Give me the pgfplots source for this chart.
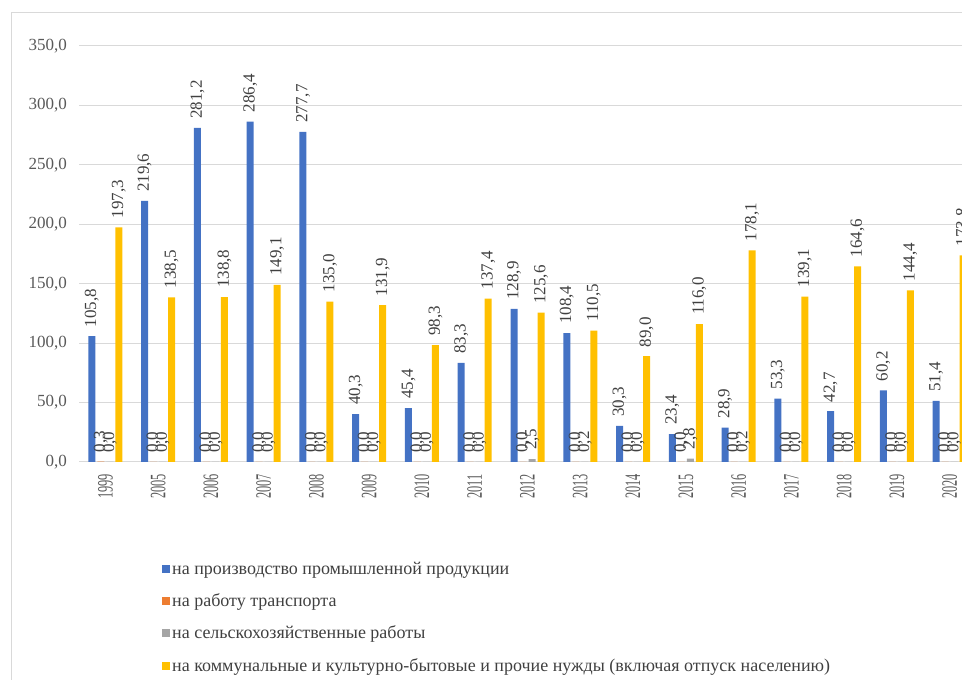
\documentclass[border=0pt]{standalone}
\usepackage{pgfplots}
\usepackage{fontspec}
\pgfplotsset{compat=1.18}
\setmainfont{Liberation Serif}
\newfontfamily\xtickfont[FakeStretch=0.56]{Liberation Serif}

\definecolor{cblue}{HTML}{4472C4}
\definecolor{corange}{HTML}{ED7D31}
\definecolor{cgray}{HTML}{A5A5A5}
\definecolor{cyellow}{HTML}{FFC000}
\definecolor{gridc}{HTML}{D9D9D9}
\definecolor{txt}{HTML}{595959}
\definecolor{lbl}{HTML}{404040}

\begin{document}
\begin{tikzpicture}
\useasboundingbox (0,0) rectangle (962pt,680pt);
\clip (0,0) rectangle (962pt,680pt);
% chart frame
\draw[gridc, line width=1pt] (11pt,667pt) -- (1000pt,667pt);
\draw[gridc, line width=1pt] (11pt,667pt) -- (11pt,-10pt);
\begin{axis}[
    at={(79pt,218pt)}, anchor=south west,
    scale only axis,
    width=897pt, height=416pt,
    ybar=2pt, bar width=7pt,
    xmin=-0.5, xmax=16.5,
    ymin=0, ymax=350,
    ytick={0,50,...,350},
    xtick={0,...,16},
    xticklabels={1999,2005,2006,2007,2008,2009,2010,2011,2012,2013,2014,2015,2016,2017,2018,2019,2020},
    axis line style={draw=none},
    major tick length=0pt,
    ymajorgrids,
    grid style={gridc, line width=1pt},
    /pgf/number format/fixed,
    /pgf/number format/fixed zerofill,
    /pgf/number format/precision=1,
    /pgf/number format/use comma,
    /pgf/number format/assume math mode=true,
    yticklabel style={font=\fontsize{17}{20}\selectfont, text=txt, anchor=east, inner sep=0pt, xshift=-12pt},
    xticklabel style={font=\xtickfont\fontsize{22}{24}\selectfont, text=txt, rotate=90, anchor=east, inner sep=0pt},
    xticklabel shift=12pt,
    nodes near coords,
    nodes near coords style={font=\fontsize{17}{20}\selectfont, text=lbl, rotate=90, anchor=west, inner xsep=9pt, inner ysep=0pt},
    legend image code/.code={\fill[#1] (0pt,-4pt) rectangle (8pt,4pt);},
    legend style={at={(0.0925,-0.2346)}, anchor=north west, draw=none, fill=none,
        font=\fontsize{18}{20}\selectfont, text=lbl, row sep=14pt, inner sep=0pt},
    legend cell align=left,
]
\addplot[fill=cblue, draw=none] coordinates {
(0,105.8) (1,219.6) (2,281.2) (3,286.4) (4,277.7) (5,40.3) (6,45.4) (7,83.3) (8,128.9)
(9,108.4) (10,30.3) (11,23.4) (12,28.9) (13,53.3) (14,42.7) (15,60.2) (16,51.4)};
\addplot[fill=corange, draw=none] coordinates {
(0,0.3) (1,0) (2,0) (3,0) (4,0) (5,0) (6,0) (7,0) (8,0)
(9,0) (10,0) (11,0) (12,0) (13,0) (14,0) (15,0) (16,0)};
\addplot[fill=cgray, draw=none] coordinates {
(0,0) (1,0) (2,0) (3,0) (4,0) (5,0) (6,0) (7,0) (8,2.5)
(9,0.2) (10,0) (11,2.8) (12,0.2) (13,0) (14,0) (15,0) (16,0)};
\addplot[fill=cyellow, draw=none] coordinates {
(0,197.3) (1,138.5) (2,138.8) (3,149.1) (4,135.0) (5,131.9) (6,98.3) (7,137.4) (8,125.6)
(9,110.5) (10,89.0) (11,116.0) (12,178.1) (13,139.1) (14,164.6) (15,144.4) (16,173.8)};
\legend{на производство промышленной  продукции,
        на работу транспорта,
        на сельскохозяйственные  работы,
        на коммунальные и культурно-бытовые и прочие нужды (включая отпуск населению)}
\end{axis}
\end{tikzpicture}
\end{document}
